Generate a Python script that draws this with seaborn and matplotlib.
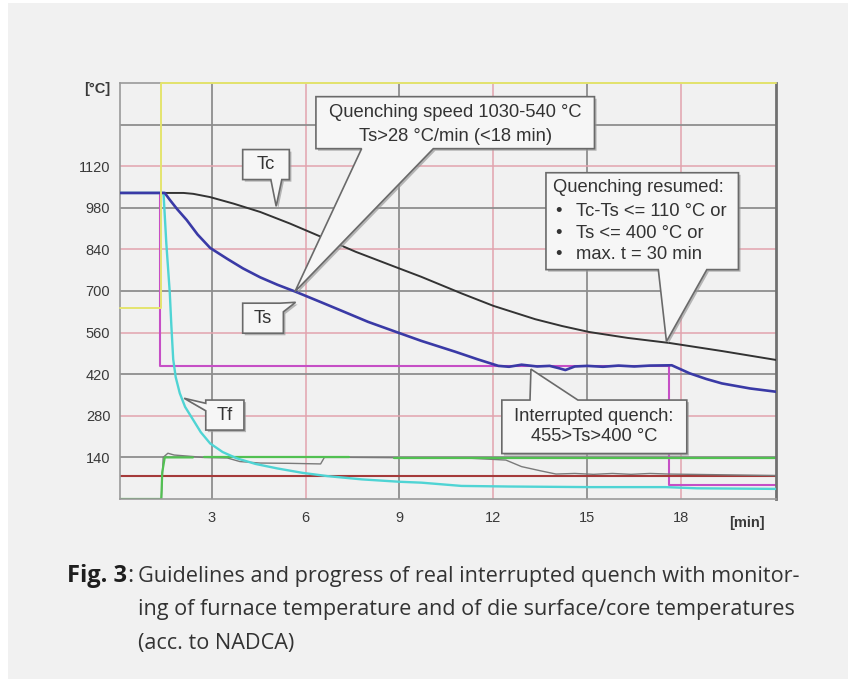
import numpy as np
import pandas as pd
import matplotlib
matplotlib.use("Agg")
import matplotlib.pyplot as plt
import seaborn as sns
from matplotlib.patches import Polygon, Rectangle
import matplotlib.patheffects as pe

# ---------------- data (time in min, temperature in °C) ----------------
# Ts - die surface temperature (blue)
ts_time = [0.07, 1.50, 1.66, 1.90, 2.20, 2.55, 2.95, 3.50, 4.00, 4.55, 5.10, 5.67, 6.50, 7.23, 8.00,
           8.98, 9.70, 10.77, 11.50, 12.16, 12.50, 12.90, 13.40, 13.80, 14.10, 14.30, 14.60,
           15.00, 15.50, 16.00, 16.50, 17.00, 17.70, 18.27, 18.80, 19.30, 20.20, 21.03]
ts_temp = [1030, 1030, 1007, 975, 939, 890, 845, 808, 776, 746, 721, 698, 662, 630, 596,
           559, 532, 496, 470, 448, 445, 452, 446, 448, 440, 434, 446,
           448, 445, 449, 446, 449, 450, 423, 404, 389, 372, 361]
# Tc - die core temperature (black)
tc_time = [0.07, 1.50, 2.10, 2.41, 2.95, 3.70, 4.55, 5.50, 6.48, 7.60, 8.84, 9.69, 10.98,
           12.00, 13.34, 14.20, 15.06, 16.30, 17.63, 19.30, 21.03]
tc_temp = [1030, 1030, 1030, 1027, 1016, 994, 966, 927, 883, 832, 782, 748, 692,
           650, 605, 582, 562, 542, 525, 498, 468]
# Tf - furnace / quench medium temperature (cyan)
tf_time = [0.07, 1.46, 1.55, 1.66, 1.71, 1.77, 1.85, 1.98, 2.15, 2.41, 2.65, 2.95, 3.35, 3.80,
           4.40, 5.09, 5.90, 6.70, 7.80, 9.00, 9.70, 10.98, 12.50, 15.06, 17.50, 18.50, 21.03]
tf_temp = [1030, 1030, 860, 695, 585, 470, 410, 356, 310, 266, 225, 187, 158, 137,
           118, 103, 88, 77, 66, 58, 55, 44, 42, 40, 40, 36, 34]
# Surface temperature guideline (magenta)
mg_time = [0.07, 1.34, 1.34, 17.62, 17.62, 21.03]
mg_temp = [1030, 1030, 449, 449, 47, 47]
# Furnace guideline (yellow)
yl_time = [0.07, 1.39, 1.39, 21.03]
yl_temp = [643, 643, 1400, 1400]
# Lower limit line (dark red)
rd_time = [0.07, 21.03]
rd_temp = [77, 77]
# Green signal (segments with gaps)
gr_time = [0.07, 1.39, 1.42, 1.50, 2.40, 2.75, 7.40, 8.84, 12.00, 21.03]
gr_temp = [0, 0, 90, 140, 140, 140, 140, 139, 139, 139]
gr_seg = [0, 0, 0, 0, 0, 1, 1, 2, 2, 2]
# Grey signal
gy_time = [1.39, 1.45, 1.60, 1.80, 2.40, 2.70, 3.50, 3.90, 4.55, 5.50, 6.48, 6.60, 7.40, 8.84,
           11.30, 12.40, 12.90, 13.50, 14.00, 14.60, 15.20, 15.80, 16.40, 17.00, 17.60, 21.03]
gy_temp = [0, 140, 154, 148, 143, 140, 138, 126, 121, 120, 118, 140, 140, 139,
           137, 131, 109, 95, 84, 86, 83, 86, 83, 86, 84, 79]

x_ticks = [3, 6, 9, 12, 15, 18]
y_ticks = [140, 280, 420, 560, 700, 840, 980, 1120]
y_grid = [140, 280, 420, 560, 700, 840, 980, 1120, 1260]

# ---------------- figure ----------------
sns.set_theme(style="white")
plt.rcParams['font.family'] = ['Liberation Sans', 'DejaVu Sans']

W, H = 848, 679
BG = '#f1f1f1'
fig = plt.figure(figsize=(W / 100, H / 100), dpi=100, facecolor='white')
fig.patches.append(Rectangle((8 / W, 0), 1, 1 - 3 / H, transform=fig.transFigure,
                             facecolor=BG, edgecolor='none', zorder=-10))
ax = fig.add_axes([120 / W, 1 - 499 / H, (776 - 120) / W, (499 - 83) / H])
ax.set_facecolor(BG)
ax.set_xlim(0.07, 21.03)
ax.set_ylim(0, 1400)

GRAY_GRID = '#8e8e8e'
PINK_GRID = '#e2a4ae'
for i, v in enumerate(x_ticks):
    ax.axvline(v, color=GRAY_GRID if i % 2 == 0 else PINK_GRID, lw=1.3 if i % 2 == 0 else 1.1, zorder=0.5)
for i, v in enumerate(y_grid):
    ax.axhline(v, color=GRAY_GRID if i % 2 == 0 else PINK_GRID, lw=1.3 if i % 2 == 0 else 1.1, zorder=0.5)

common = dict(ax=ax, sort=False, estimator=None, legend=False)
sns.lineplot(x=yl_time, y=yl_temp, color='#e4e46e', lw=1.4, clip_on=False, zorder=4, **common)
sns.lineplot(x=mg_time, y=mg_temp, color='#c64fc6', lw=1.5, zorder=2, **common)
sns.lineplot(x=rd_time, y=rd_temp, color='#a53a3a', lw=1.5, zorder=2, **common)
gdf = pd.DataFrame({'t': gr_time, 'T': gr_temp, 'seg': gr_seg})
for s, d in gdf.groupby('seg'):
    sns.lineplot(x=d['t'].tolist(), y=d['T'].tolist(), color='#52c052', lw=1.6, zorder=2.2, **common)
sns.lineplot(x=gy_time, y=gy_temp, color='#7a7a7a', lw=1.0, zorder=2.1, **common)
sns.lineplot(x=tf_time, y=tf_temp, color='#4fd4d4', lw=1.7, zorder=3, **common)
sns.lineplot(x=tc_time, y=tc_temp, color='#333333', lw=1.4, zorder=3.1, **common)
sns.lineplot(x=ts_time, y=ts_temp, color='#3a3aa6', lw=1.9, zorder=3.2, **common)

ax.set_xticks(x_ticks)
ax.set_xticklabels([str(v) for v in x_ticks])
ax.set_yticks(y_ticks)
ax.set_yticklabels([str(v) for v in y_ticks])
ax.tick_params(axis='both', length=0, labelsize=10.5, labelcolor='#3a3a3a')
ax.tick_params(axis='y', pad=7)
ax.tick_params(axis='x', pad=9)
ax.set_xlabel('')
ax.set_ylabel('')
for side in ['left', 'bottom', 'top']:
    ax.spines[side].set_color('#9a9a9a')
    ax.spines[side].set_linewidth(1.2)
ax.spines['right'].set_color('#707070')
ax.spines['right'].set_linewidth(2.0)

fig.text(97 / W, 1 - 89 / H, '[°C]', ha='center', va='center', fontsize=10.5,
         fontweight='bold', color='#3a3a3a')
fig.text(746.7 / W, 1 - 522.7 / H, '[min]', ha='center', va='center', fontsize=10.5,
         fontweight='bold', color='#3a3a3a')

# ---------------- callouts ----------------
shadow = [pe.SimplePatchShadow(offset=(1.5, -1.5), shadow_rgbFace='#9a9a9a', alpha=0.7), pe.Normal()]


def callout(verts):
    p = Polygon(verts, closed=True, facecolor='#f6f6f6', edgecolor='#6a6a6a', lw=1.2,
                zorder=6, joinstyle='miter', path_effects=shadow)
    ax.add_patch(p)


def bottom_ptr(t0, t1, T0, T1, b1, b2, tip):
    return [(t0, T0), (b1, T0), tip, (b2, T0), (t1, T0), (t1, T1), (t0, T1)]


def top_ptr(t0, t1, T0, T1, b1, b2, tip):
    return [(t0, T0), (t1, T0), (t1, T1), (b2, T1), tip, (b1, T1), (t0, T1)]


def left_ptr(t0, t1, T0, T1, bl, bh, tip):
    return [(t0, T0), (t1, T0), (t1, T1), (t0, T1), (t0, bh), tip, (t0, bl)]


TXT = dict(fontsize=13.2, color='#333333', zorder=7)

# Tc
callout(bottom_ptr(3.99, 5.48, 1075, 1176, 4.89, 5.24, (5.06, 985)))
ax.text(4.74, 1125, 'Tc', ha='center', va='center', **TXT)
# Ts
callout([(3.99, 558), (5.29, 558), (5.29, 630), (5.68, 662), (5.18, 659), (3.99, 659)])
ax.text(4.64, 606, 'Ts', ha='center', va='center', **TXT)
# Tf
callout(left_ptr(2.81, 4.03, 232, 333, 297, 322, (2.12, 339)))
ax.text(3.42, 281, 'Tf', ha='center', va='center', **TXT)
# Quenching speed
callout(bottom_ptr(6.33, 15.23, 1179, 1354, 7.79, 10.08, (5.66, 698)))
ax.text(10.78, 1300, 'Quenching speed 1030-540 °C', ha='center', va='center', **TXT)
ax.text(10.78, 1221, 'Ts>28 °C/min (<18 min)', ha='center', va='center', **TXT)
# Quenching resumed
callout(bottom_ptr(13.68, 19.83, 772, 1098, 17.27, 18.82, (17.53, 530)))
ax.text(13.90, 1047, 'Quenching resumed:', ha='left', va='center', **TXT)
for yv, s in zip([968, 895, 822], ['Tc-Ts <= 110 °C or', 'Ts <= 400 °C or', 'max. t = 30 min']):
    ax.text(13.98, yv, '•', ha='left', va='center', **TXT)
    ax.text(14.64, yv, s, ha='left', va='center', **TXT)
# Interrupted quench
callout(top_ptr(12.27, 18.18, 153, 333, 13.17, 14.70, (13.20, 437)))
ax.text(15.22, 277, 'Interrupted quench:', ha='center', va='center', **TXT)
ax.text(15.22, 209, '455>Ts>400 °C', ha='center', va='center', **TXT)

# ---------------- caption ----------------
cap_fam = ['Open Sans', 'DejaVu Sans']
base_fs = 17
fig.text(66.7 / W, 1 - 582 / H, 'Fig. 3', fontsize=base_fs, fontweight='bold', family=cap_fam,
         color='#1e1e1e', va='baseline', ha='left')
fig.text(127 / W, 1 - 582 / H, ':', fontsize=base_fs, family=cap_fam, color='#333333',
         va='baseline', ha='left')
lines = ['Guidelines and progress of real interrupted quench with monitor-',
         'ing of furnace temperature and of die surface/core temperatures',
         '(acc. to NADCA)']
baselines = [582, 615.5, 649]
objs = []
for s, b in zip(lines, baselines):
    objs.append(fig.text(138.3 / W, 1 - b / H, s, fontsize=base_fs, family=cap_fam,
                         color='#333333', va='baseline', ha='left'))
fig.canvas.draw()
r = fig.canvas.get_renderer()
w1 = objs[0].get_window_extent(r).width
w2 = objs[1].get_window_extent(r).width
scale = 0.5 * (660 / w1 + 660 / w2)
for o in objs:
    o.set_fontsize(base_fs * scale)

fig.savefig('out.png', dpi=100, facecolor='white')
